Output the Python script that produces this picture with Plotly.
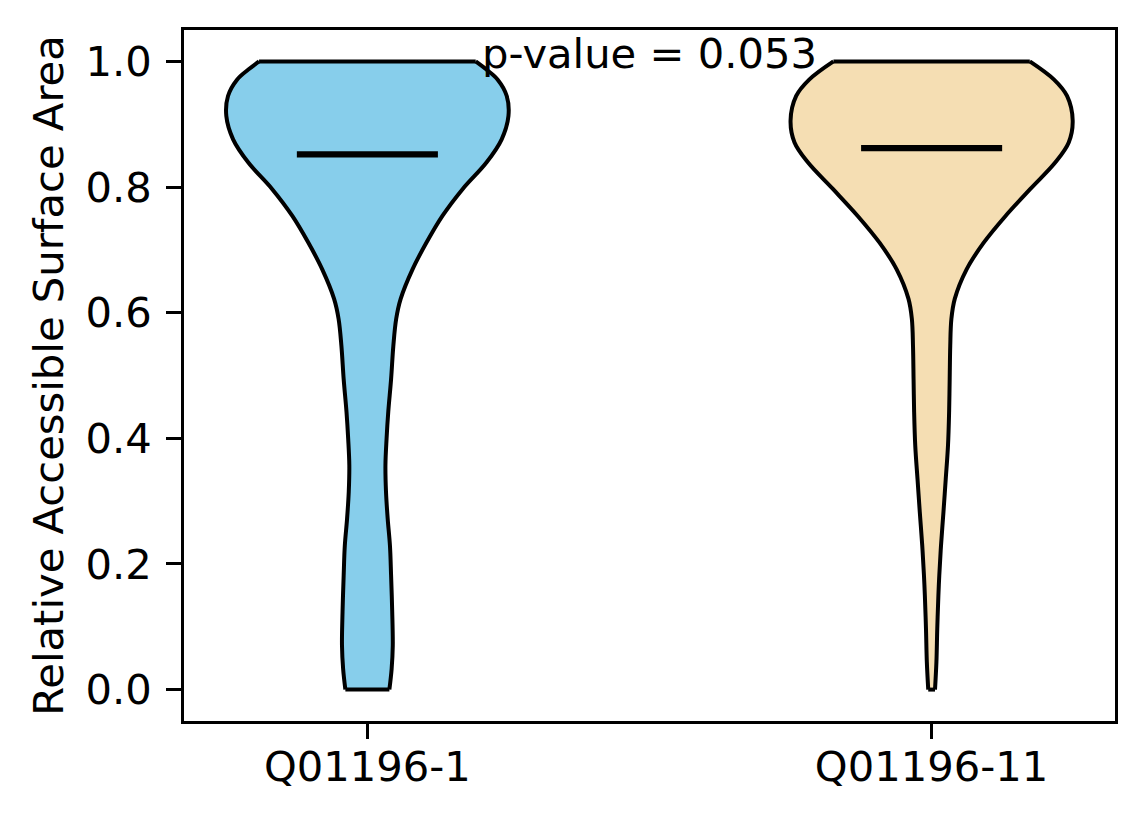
import plotly.graph_objects as go

# groups and their positions on the x axis
categories = ["Q01196-1", "Q01196-11"]
positions = [1, 2]
fill_colors = ["#87CEEB", "#F5DEB3"]

# violin outlines: height and half width of the body
left_y = [1.0, 0.987, 0.971, 0.945, 0.913, 0.876, 0.839, 0.797, 0.754, 0.712, 0.669,
          0.622, 0.590, 0.547, 0.494, 0.442, 0.399, 0.357, 0.315, 0.272, 0.229,
          0.182, 0.124, 0.070, 0.033, 0.0]
left_half = [0.192, 0.211, 0.231, 0.247, 0.250, 0.238, 0.211, 0.169, 0.133, 0.105, 0.080,
             0.059, 0.051, 0.046, 0.042, 0.037, 0.034, 0.032, 0.033, 0.036, 0.040,
             0.042, 0.044, 0.045, 0.043, 0.039]

right_y = [1.0, 0.971, 0.945, 0.906, 0.871, 0.839, 0.797, 0.754, 0.711, 0.669, 0.622,
           0.590, 0.547, 0.494, 0.442, 0.388, 0.335, 0.283, 0.229, 0.182, 0.150,
           0.097, 0.044, 0.0]
right_half = [0.174, 0.217, 0.240, 0.250, 0.243, 0.219, 0.175, 0.131, 0.092, 0.062, 0.041,
              0.035, 0.033, 0.032, 0.031, 0.029, 0.025, 0.021, 0.0166, 0.0136, 0.012,
              0.010, 0.0085, 0.006]

medians = [0.852, 0.862]
p_label = "p-value = 0.053"

outlines = [(left_y, left_half), (right_y, right_half)]

FONT = "DejaVu Sans"
edge = dict(color="black", width=4, shape="spline", smoothing=1.0)
fig = go.Figure()

for pos, color, (ys, hw), med in zip(positions, fill_colors, outlines, medians):
    # left edge, then right edge filled back to it
    fig.add_trace(go.Scatter(
        x=[pos - h for h in hw], y=ys, mode="lines", line=edge,
        hoverinfo="skip", showlegend=False,
    ))
    fig.add_trace(go.Scatter(
        x=[pos + h for h in hw], y=ys, mode="lines", line=edge,
        fill="tonextx", fillcolor=color,
        hoverinfo="skip", showlegend=False,
    ))
    # flat caps at top and bottom
    fig.add_trace(go.Scatter(
        x=[pos - hw[0], pos + hw[0], None, pos - hw[-1], pos + hw[-1]],
        y=[ys[0], ys[0], None, ys[-1], ys[-1]],
        mode="lines", line=dict(color="black", width=4),
        hoverinfo="skip", showlegend=False,
    ))
    fig.add_trace(go.Scatter(
        x=[pos - 0.125, pos + 0.125], y=[med, med],
        mode="lines", line=dict(color="black", width=6.25),
        showlegend=False,
    ))

fig.add_annotation(
    x=1.5, y=1.013, text=p_label, showarrow=False,
    xanchor="center", yanchor="middle",
    font=dict(family=FONT, size=41.7, color="black"),
)

axis_style = dict(
    showline=True, linecolor="black", linewidth=3.3, mirror=True,
    ticks="outside", ticklen=14.6, tickwidth=3.3, tickcolor="black",
    showgrid=False, zeroline=False,
    tickfont=dict(family=FONT, size=41.7, color="black"),
)

# the page has an 8px body margin, so the figure is a bit smaller than the window
fig.update_layout(
    width=1136, height=816,
    margin=dict(l=176, r=29, t=22, b=103),
    plot_bgcolor="white", paper_bgcolor="white",
    font=dict(family=FONT, color="black"),
    xaxis=dict(range=[0.675, 2.325], tickvals=positions, ticktext=categories,
               ticklabelstandoff=-8, **axis_style),
    yaxis=dict(
        range=[-0.05, 1.05], tickvals=[0, 0.2, 0.4, 0.6, 0.8, 1.0], tickformat=".1f",
        ticklabelstandoff=6,
        title=dict(text="Relative Accessible Surface Area",
                   font=dict(family=FONT, size=41.7, color="black"), standoff=10),
        **axis_style,
    ),
)

fig.write_html("out.html")
